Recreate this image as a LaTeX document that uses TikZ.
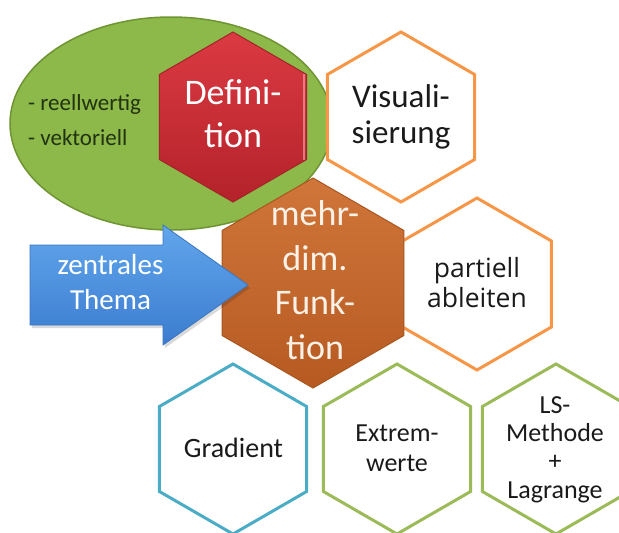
\documentclass[tikz,border=0pt]{standalone}
\usepackage{fontspec}
\setmainfont{Carlito}
\newfontfamily\pfont{Open Sans}
\usetikzlibrary{shapes.geometric}
\definecolor{ellfill}{HTML}{8DB84A}
\definecolor{elldraw}{HTML}{6F9432}
\definecolor{defTop}{HTML}{DB3A42}
\definecolor{defBot}{HTML}{B4222A}
\definecolor{defEdge}{HTML}{A3242A}
\definecolor{mfTop}{HTML}{D0763A}
\definecolor{mfBot}{HTML}{B65A22}
\definecolor{mfEdge}{HTML}{A9561F}
\definecolor{orangeLn}{HTML}{F79646}
\definecolor{tealLn}{HTML}{4BACC6}
\definecolor{greenLn}{HTML}{9BBB59}
\definecolor{arrTop}{HTML}{62A6EC}
\definecolor{arrBot}{HTML}{3B7CCF}
\definecolor{arrEdge}{HTML}{3A76C0}
\definecolor{ellText}{HTML}{22330F}
\definecolor{txtDark}{HTML}{1A1A1A}
\definecolor{mfText}{HTML}{FBF1E6}
\begin{document}
\begin{tikzpicture}[x=1pt,y=-1pt,
  hexa/.style={regular polygon, regular polygon sides=6, shape border rotate=30,
    minimum size=#1, inner sep=0pt, line width=3pt},
  outlinehex/.style={hexa=170pt, fill=white},
  txt/.style={align=center, inner sep=0pt},
]
\useasboundingbox (0,0) rectangle (619,533);

% green ellipse
\node[ellipse, minimum width=322pt, minimum height=213pt, fill=ellfill, draw=elldraw, line width=1.5pt, inner sep=0pt] (ell) at (171,123.5) {};
\node[anchor=base west, inner sep=0pt, text=ellText, font=\fontsize{23}{27}\selectfont] (r1) at (28,110) {- reellwertig};
\node[anchor=base west, inner sep=0pt, text=ellText, font=\fontsize{23}{27}\selectfont] (r2) at (28,145) {- vektoriell};

% Definition
\node[hexa=170pt, top color=defTop, bottom color=defBot, draw=defEdge, line width=1pt] (hdef) at (233,117) {};
\draw[draw=defTop!40!white, line width=2pt, opacity=0.6] ([xshift=-3pt]hdef.corner 6) -- ([xshift=-3pt]hdef.corner 5);
\node[txt, text=white, font=\fontsize{36}{43}\selectfont] (tdef) at (233,114) {Defini-\\tion};

% Visualisierung
\node[outlinehex, draw=orangeLn] (hvis) at (401,117) {};
\node[txt, text=txtDark, font=\fontsize{33}{36}\selectfont] (tvis) at (401,117) {Visuali-\\sierung};

% bottom row
\node[outlinehex, draw=tealLn] (hgra) at (233,449) {};
\node[txt, text=txtDark, font=\fontsize{28}{33}\selectfont] (tgra) at (233.5,448) {Gradient};
\node[outlinehex, draw=greenLn] (hext) at (397,449) {};
\node[txt, text=txtDark, font=\fontsize{26}{30}\selectfont] (text) at (397,448.5) {Extrem-\\werte};
\node[outlinehex, draw=greenLn] (hls) at (556,449) {};
\node[txt, text=txtDark, font=\fontsize{26}{28.4}\selectfont] (tls) at (555,449.5) {LS-\\Methode\\+\\Lagrange};

% partiell ableiten
\node[outlinehex, draw=orangeLn, hexa=172pt] (hpar) at (477,284) {};
\node[txt, text=txtDark, font=\pfont\fontsize{26.5}{30}\selectfont] (tpar) at (477,282.5) {partiell\\ableiten};

% mehrdim. Funktion
\node[hexa=210pt, top color=mfTop, bottom color=mfBot, draw=mfEdge, line width=1pt] (hmf) at (313,283) {};
\node[txt, text=mfText, font=\fontsize{36}{44.5}\selectfont] (tmf) at (315,280) {mehr-\\dim.\\Funk-\\tion};

% blue arrow
\coordinate (a1) at (30,245);
\coordinate (a2) at (163,245);
\coordinate (a3) at (163,225);
\coordinate (a4) at (248,285);
\coordinate (a5) at (163,345);
\coordinate (a6) at (163,325);
\coordinate (a7) at (30,325);
\fill[black, opacity=0.15] ([shift={(2,3)}]a1) -- ([shift={(2,3)}]a2) -- ([shift={(2,3)}]a3) -- ([shift={(2,3)}]a4) -- ([shift={(2,3)}]a5) -- ([shift={(2,3)}]a6) -- ([shift={(2,3)}]a7) -- cycle;
\draw[top color=arrTop, bottom color=arrBot, draw=arrEdge, line width=0.8pt, line join=miter]
  (a1) -- (a2) -- (a3) -- (a4) -- (a5) -- (a6) -- (a7) -- cycle;
\node[txt, text=white, font=\fontsize{29}{35}\selectfont] (tarr) at (110.5,282.5) {zentrales\\Thema};
\end{tikzpicture}
\end{document}
